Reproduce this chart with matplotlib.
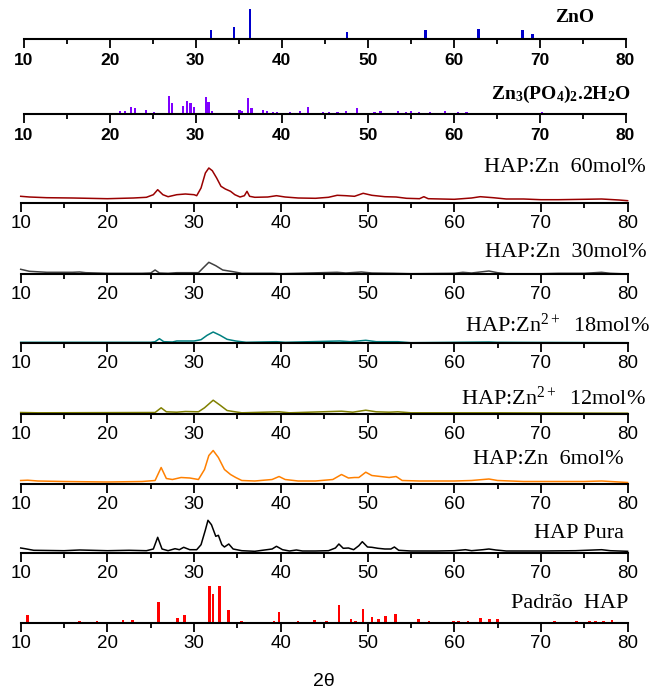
import numpy as np
import matplotlib
matplotlib.use("Agg")
import matplotlib.pyplot as plt

plt.rcParams["mathtext.fontset"] = "custom"
plt.rcParams["mathtext.rm"] = "Liberation Serif"
plt.rcParams["mathtext.it"] = "Liberation Serif:italic"
plt.rcParams["mathtext.bf"] = "Liberation Serif:bold"
plt.rcParams["mathtext.default"] = "rm"

# reference patterns (peak position, relative intensity)
zno_pos = [31.8, 34.45, 36.3, 47.6, 56.7, 62.9, 66.4, 68.0, 69.2, 72.6, 77.0]
zno_int = [9.3, 11.7, 30.0, 6.7, 9.3, 10.0, 1.0, 9.0, 5.0, 0.7, 0.7]

znp_pos = [21.2, 21.8, 22.5, 22.9, 24.2, 25.2, 26.9, 27.2, 28.5, 29.0, 29.4, 29.8,
           31.2, 31.5, 31.9, 34.2, 35.1, 35.4, 36.1, 36.5, 37.8, 38.3, 39.0, 39.5,
           41.0, 42.1, 43.1, 44.8, 45.5, 46.5, 47.5, 48.8, 50.8, 51.5, 53.5, 54.5,
           55.0, 56.0, 57.3, 59.0, 60.5, 61.5, 64.0, 67.2, 68.5, 70.3, 75.0, 77.8]
znp_int = [2.7, 3.0, 6.7, 6.5, 3.7, 1.7, 17.7, 11.0, 7.7, 12.7, 11.0, 6.7,
           17.0, 11.7, 2.7, 1.0, 4.3, 2.7, 16.0, 6.0, 4.3, 2.7, 2.0, 1.7,
           2.0, 3.3, 6.7, 1.7, 1.7, 1.7, 3.3, 6.0, 1.7, 2.7, 2.7, 2.0,
           2.7, 1.7, 2.0, 2.7, 1.7, 1.7, 0.7, 1.0, 0.7, 1.7, 0.7, 1.0]

hap_pos = [10.8, 16.8, 18.8, 21.8, 22.9, 25.4, 25.9, 28.1, 28.9, 31.7, 31.8, 32.2,
           32.9, 34.0, 35.5, 39.2, 39.8, 40.5, 42.0, 43.9, 45.3, 46.7, 48.1, 48.6,
           49.5, 50.5, 51.3, 52.1, 53.2, 54.4, 55.9, 57.1, 58.1, 59.9, 60.5, 61.6,
           63.0, 64.1, 65.0, 66.4, 69.7, 71.6, 74.1, 75.6, 76.3, 77.2, 78.2]
hap_int = [8.3, 2.3, 1.7, 3.3, 3.3, 1.0, 21.3, 4.7, 8.3, 17.7, 37.3, 29.3,
           37.3, 13.3, 2.3, 2.3, 11.0, 1.0, 2.3, 2.7, 2.3, 18.3, 4.3, 2.3,
           14.0, 5.7, 4.0, 6.7, 9.0, 0.7, 4.0, 1.7, 1.3, 2.3, 2.0, 1.7,
           5.0, 4.0, 4.3, 0.7, 0.7, 2.3, 2.0, 2.0, 1.7, 2.3, 3.0]

# measured patterns (2theta, intensity a.u.)
x60 = [10, 11, 13, 16, 20, 23, 24.5, 25.3, 25.8, 26.4, 27, 28, 29, 30, 30.3, 30.8,
       31.3, 31.7, 32.1, 32.6, 33.1, 33.6, 34.2, 34.7, 35.3, 35.8, 36.1, 36.4, 37,
       38.5, 39.5, 40.5, 42, 44, 45.5, 46.5, 47.5, 48.5, 49.5, 50.5, 52, 53.3, 54.5,
       56, 56.5, 57, 60, 62, 63, 64.5, 66, 68, 70, 72, 75, 77, 79, 80]
y60 = [6.7, 6.0, 5.3, 5.0, 4.3, 5.0, 5.7, 8.3, 13.3, 8.3, 6.3, 8.3, 9.0, 8.3, 7.3, 15.0,
       30.0, 35.0, 32.3, 25.0, 16.7, 14.0, 11.7, 8.3, 6.0, 7.3, 11.7, 6.7, 5.7,
       6.0, 7.3, 6.0, 5.0, 4.7, 5.7, 7.7, 7.3, 6.7, 9.7, 7.7, 6.3, 6.0, 4.7,
       4.3, 6.3, 4.3, 3.7, 5.0, 6.3, 5.3, 4.0, 4.0, 3.3, 3.3, 3.7, 4.0, 3.0, 2.3]

x30 = [10, 10.5, 11, 13, 16, 16.8, 17.5, 20, 24, 25, 25.5, 26, 27, 28, 29.5, 30.5,
       31, 31.7, 32.5, 33.3, 34.5, 35.5, 39, 40, 46.5, 47.5, 49.3, 50.5, 53, 55,
       60, 61, 62, 63, 64, 65, 66, 70, 72, 75, 77, 78, 80]
y30 = [4.7, 3.7, 2.7, 1.7, 1.7, 2.0, 1.3, 0.7, 0.7, 1.0, 4.0, 1.0, 0.7, 1.3, 1.3, 1.3,
       5.7, 11.7, 8.3, 4.0, 2.3, 0.7, 0.7, 0.3, 1.7, 1.0, 2.0, 1.0, 0.7, 0.3,
       0.7, 1.7, 1.0, 2.0, 3.0, 1.3, 0.3, 0.3, 0.7, 0.7, 1.7, 0.7, 0.0]

x18 = [10, 25, 25.5, 26, 26.5, 27.5, 28, 30, 30.8, 31.5, 32.2, 33, 33.8, 34.8, 36,
       39.5, 40.5, 46.8, 48, 49.8, 51, 53.5, 55, 64, 65, 80]
y18 = [0.7, 0.7, 1.3, 4.3, 1.3, 1.0, 2.0, 2.0, 3.3, 7.7, 11.0, 7.7, 3.7, 2.0, 0.7,
       1.3, 0.7, 2.0, 1.3, 2.7, 1.3, 1.3, 0.3, 1.0, 0.7, 0.3]

x12 = [10, 12, 25.5, 26.2, 26.8, 28, 29, 30.5, 31.2, 32.2, 33, 33.8, 34.5, 35.5,
       39.8, 41, 47, 48.3, 49.8, 51, 52.5, 53.5, 55, 65, 80]
y12 = [1.0, 0.7, 1.0, 5.7, 1.7, 1.3, 2.0, 1.7, 5.7, 13.3, 8.3, 3.0, 2.0, 0.7,
       1.7, 0.7, 2.3, 1.3, 3.3, 1.7, 1.3, 1.7, 0.7, 0.7, 0.3]

x6 = [10, 10.8, 12, 15, 20, 24, 25.5, 26.2, 26.8, 27.5, 28.5, 29.5, 30.5, 31.2,
      31.7, 32.2, 32.8, 33.5, 34.2, 34.8, 35.5, 37, 39, 39.8, 40.5, 42, 44, 46,
      47, 47.8, 48.5, 49, 49.8, 50.5, 51.5, 52.5, 53.3, 54, 56, 60, 62, 64, 65,
      68, 72, 75, 77, 80]
y6 = [3.0, 3.3, 2.5, 2.0, 1.5, 2.0, 3.0, 16.0, 5.0, 4.0, 6.0, 5.5, 4.0, 14.0,
      28.0, 33.0, 26.0, 14.0, 9.0, 6.0, 3.0, 2.5, 4.0, 7.0, 4.0, 2.5, 2.5, 4.0,
      9.0, 5.5, 6.0, 6.0, 11.3, 8.0, 7.0, 6.0, 7.0, 3.0, 2.5, 2.5, 3.0, 4.5, 3.0,
      2.0, 2.0, 2.0, 2.5, 1.0]

xpura = [10, 10.5, 11.5, 15, 16.8, 20, 22.5, 24.5, 25.3, 25.8, 26.3, 27, 27.8, 28.3,
         28.8, 29.5, 30.3, 30.8, 31.3, 31.6, 32, 32.5, 32.8, 33.2, 33.5, 34, 34.5,
         35.5, 37, 39, 39.5, 40.2, 41, 41.8, 42.5, 44, 45.5, 46.3, 46.7, 47.2, 47.8,
         48.4, 49, 49.4, 50, 50.5, 51.2, 52, 52.7, 53.1, 53.6, 55, 58, 60, 61.3, 62,
         63.3, 64, 64.8, 66, 70, 74, 77, 78, 80]
ypura = [5.0, 4.3, 2.7, 2.3, 3.0, 2.3, 2.7, 2.3, 4.0, 15.7, 4.0, 2.3, 4.3, 3.3,
         5.7, 3.3, 3.3, 8.3, 23.0, 32.7, 28.3, 16.7, 17.7, 8.3, 6.0, 9.0, 4.0,
         2.3, 1.7, 4.0, 6.7, 3.3, 2.0, 3.0, 2.0, 2.0, 2.3, 5.0, 9.0, 4.7, 5.0,
         3.3, 7.3, 11.3, 6.0, 5.7, 4.7, 4.0, 4.0, 6.0, 2.7, 2.0, 2.0, 2.3, 3.3, 2.3,
         3.3, 4.0, 3.0, 2.0, 2.0, 2.3, 3.3, 2.3, 1.7]

W, H = 656, 692
fig = plt.figure(figsize=(W / 100, H / 100), dpi=100)


def make_ax(base_px, left_px, right_px, bold=False):
    h = 46
    ax = fig.add_axes([left_px / W, 1 - base_px / H, (right_px - left_px) / W, h / H])
    ax.set_xlim(10, 80)
    ax.set_ylim(0, h)
    for s in ("left", "right", "top"):
        ax.spines[s].set_visible(False)
    ax.spines["bottom"].set_linewidth(1.5)
    ax.set_yticks([])
    ax.set_xticks(np.arange(10, 81, 10))
    ax.set_xticks(np.arange(15, 80, 10), minor=True)
    ax.tick_params(axis="x", which="major", length=6.3, width=1.3, direction="out",
                   pad=4.0 if bold else 2.5)
    ax.tick_params(axis="x", which="minor", length=3.5, width=1.3, direction="out")
    ax.patch.set_visible(False)
    for lab in ax.get_xticklabels():
        lab.set_family("Liberation Sans")
        lab.set_fontsize(12.5 if bold else 13.5)
        if bold:
            lab.set_fontweight("bold")
    return ax


def label(xr, yc, txt, size=16, weight="normal"):
    fig.text(xr / W, 1 - yc / H, txt, ha="right", va="center",
             family="Liberation Serif", fontsize=size, fontweight=weight)


# ZnO
ax = make_ax(39, 23.7, 625.6, bold=True)
ax.bar(zno_pos, zno_int, width=0.3, color="#0000CC", linewidth=0)
label(594, 18, "ZnO", size=14, weight="bold")

# Zn3(PO4)2.2H2O
ax = make_ax(114, 23.7, 625.6, bold=True)
ax.bar(znp_pos, znp_int, width=0.25, color="#7F00FF", linewidth=0)
label(631, 94, r"$\mathbf{Zn_3(PO_4)_2.2H_2O}$", size=14)

traces = [
    (203, x60, y60, "#990000", r"HAP:Zn  60mol%", 646, 168),
    (274, x30, y30, "#404040", r"HAP:Zn  30mol%", 647, 253),
    (343, x18, y18, "#008080", r"HAP:Zn$^{2+}$  18mol%", 650, 325),
    (413.5, x12, y12, "#808000", r"HAP:Zn$^{2+}$  12mol%", 646, 398),
    (483.5, x6, y6, "#FF8000", r"HAP:Zn  6mol%", 624, 460),
    (553, xpura, ypura, "black", "HAP Pura", 624, 533),
]
for base, xs, ys, col, txt, xr, yc in traces:
    ax = make_ax(base, 20.7, 627.6)
    ax.plot(xs, ys, color=col, linewidth=1.1, clip_on=False)
    label(xr, yc, txt)

# standard HAP
ax = make_ax(623, 20.7, 627.6)
ax.bar(hap_pos, hap_int, width=0.3, color="#FF0000", linewidth=0)
label(628, 603, "Padrão  HAP")

fig.text(324 / W, 1 - 681 / H, "2θ", ha="center", va="center",
         family="Liberation Sans", fontsize=14)

fig.savefig("out.png", dpi=100)
